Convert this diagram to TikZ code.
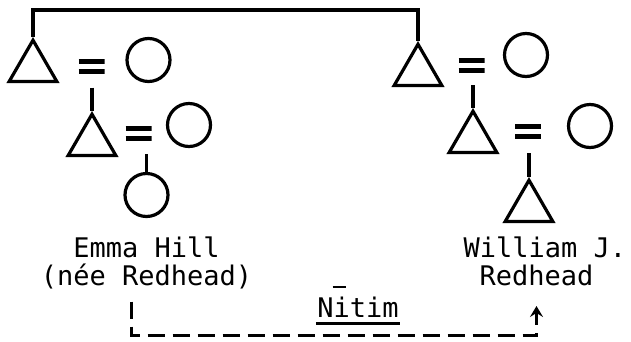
\documentclass[tikz,border=0pt]{standalone}
\usepackage{fontspec}
\newfontfamily\typed{DejaVu Sans Mono}
\usetikzlibrary{shapes.geometric,arrows.meta,calc}
\begin{document}
\begin{tikzpicture}[x=1pt,y=-1pt,line width=3.2pt,
  male/.style={regular polygon,regular polygon sides=3,minimum size=55pt,
    inner sep=0pt,draw,anchor=corner 1},
  female/.style={circle,minimum size=43pt,inner sep=0pt,draw},
  marry/.style={minimum width=26pt,minimum height=20pt,inner sep=0pt,
    path picture={
      \draw[line width=4.2pt]
        ([yshift=5pt]path picture bounding box.west) -- ([yshift=5pt]path picture bounding box.east)
        ([yshift=-5pt]path picture bounding box.west) -- ([yshift=-5pt]path picture bounding box.east);}},
  descent/.style={line width=3.2pt},
  name text/.style={font=\typed\fontsize{27pt}{29pt}\selectfont,inner sep=0pt},
  kinlink/.style={line width=3pt,dash pattern=on 17pt off 8pt,
    -{Stealth[length=11pt,width=13pt,inset=4pt]}}]

% canvas
\fill[white] (0,0) rectangle (631,341);
\useasboundingbox (0,0) rectangle (631,341);

% left line
\node[male]   (t1) at (33,37) {};
\node[marry]  (e1) at (91.5,66.5) {};
\node[female] (c1) at (148.5,60) {};
\node[male]   (t2) at (92,111) {};
\node[marry]  (e2) at (138.5,133.5) {};
\node[female] (c2) at (189,125) {};
\node[female] (c3) at (146.5,195) {};

% right line
\node[male]   (t4) at (418,41) {};
\node[marry]  (e4) at (471.5,65.5) {};
\node[female] (c4) at (526,55) {};
\node[male]   (t5) at (473,108) {};
\node[marry]  (e5) at (528,131.5) {};
\node[female] (c5) at (590,126) {};
\node[male]   (t6) at (529,177) {};

% sibling bar
\coordinate (sib) at (226,10);
\draw (t1.corner 1) |- (sib) -| (t4.corner 1);

% lines of descent
\draw[descent] ([yshift=-9.5pt]e1.south -| t2.corner 1) -- (t2.corner 1);
\draw[descent] ([yshift=-9pt]e2.south -| c3.north) -- (c3.north);
\draw[descent] ([yshift=-8pt]e4.south -| t5.corner 1) -- (t5.corner 1);
\draw[descent] ([yshift=-10pt]e5.south -| t6.corner 1) -- (t6.corner 1);

% names
\node[name text,anchor=base] (emma) at (146.5,257) {Emma Hill};
\node[name text,anchor=base] (nee) at (146.5,285) {(née Redhead)};
\node[name text,anchor=base west] (will) at (462,257) {William J.};
\node[name text,anchor=base west] (redh) at (478,285) {Redhead};

% term of address
\node[name text,anchor=base] (nitim) at (358,317) {N\rlap{\kern-1pt\rule[29pt]{13pt}{2.4pt}}itim};
\draw[line width=2.4pt] ([yshift=-6.5pt]nitim.base west) -- ([yshift=-6.5pt]nitim.base east);

% relation link
\draw[kinlink] ([xshift=-15pt,yshift=-11.5pt]nee.south) -- ++(0,34) -| ([yshift=-19pt]redh.south);
\end{tikzpicture}
\end{document}
